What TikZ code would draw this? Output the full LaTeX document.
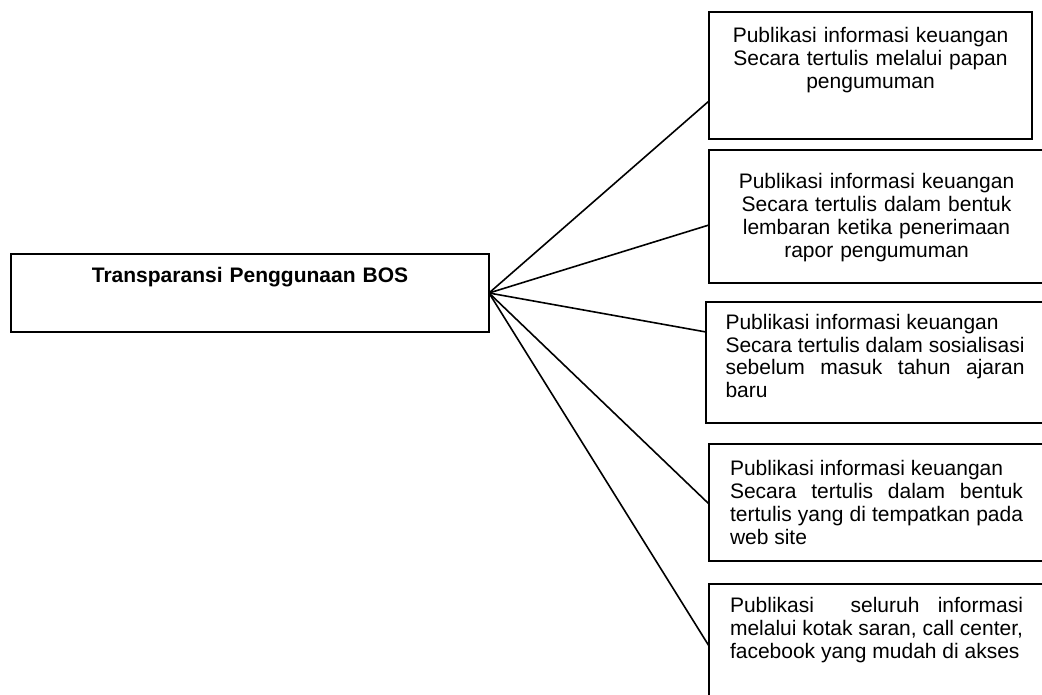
\documentclass[tikz,border=0pt]{standalone}
\usepackage{fontspec}
\setmainfont{Liberation Sans}
\usetikzlibrary{calc}

\newcommand{\boxfont}{\fontsize{21}{23}\selectfont}

\begin{document}
\begin{tikzpicture}[
  x=1pt, y=-1pt,
  pbox/.style={draw, line width=2pt, anchor=north west, inner ysep=0pt,
               outer sep=0pt, font=\boxfont},
  mid/.style={pbox, inner xsep=0pt, align=center},
  just/.style={pbox, inner xsep=21pt, align=justify,
               execute at begin node={\tolerance=9999}},
  link/.style={line width=1.6pt}
]
\useasboundingbox (0,0) rectangle (1042,695);

\node[mid, font=\boxfont\bfseries, text width=478pt, text height=29pt, text depth=49pt]
  (bos) at (11,254) {Transparansi Penggunaan BOS};

\node[mid, text width=323pt, text height=30.5pt, text depth=96.5pt] (papan) at (709,12)
  {Publikasi informasi keuangan\\Secara tertulis melalui papan\\pengumuman};
\node[mid, text width=335pt, text height=39pt, text depth=94pt] (rapor) at (709,150)
  {Publikasi informasi keuangan\\Secara tertulis dalam bentuk\\lembaran ketika penerimaan\\rapor pengumuman};
\node[just, inner xsep=19.5pt, text width=299pt, text height=27pt, text depth=94pt] (sosial) at (706,302)
  {Publikasi informasi keuangan\newline Secara tertulis dalam sosialisasi\linebreak sebelum masuk tahun ajaran\linebreak baru};
\node[just, text width=293pt, text height=31pt, text depth=86pt] (web) at (709,444)
  {Publikasi informasi keuangan\newline Secara tertulis dalam bentuk\linebreak tertulis yang di tempatkan pada\linebreak web site};
\node[just, text width=293pt, text height=28pt, text depth=92pt] (saran) at (709,584)
  {Publikasi\ \ seluruh informasi\linebreak melalui kotak saran, call center,\linebreak facebook yang mudah di akses};

% connectors from the main box
\draw[link] (bos.east) -- ([yshift=-89pt]papan.north west);
\draw[link] (bos.east) -- ([yshift=-75pt]rapor.north west);
\draw[link] (bos.east) -- ([yshift=-30pt]sosial.north west);
\draw[link] (bos.east) -- ([yshift=-60pt]web.north west);
\draw[link] (bos.east) -- ([yshift=-62pt]saran.north west);
\end{tikzpicture}
\end{document}
